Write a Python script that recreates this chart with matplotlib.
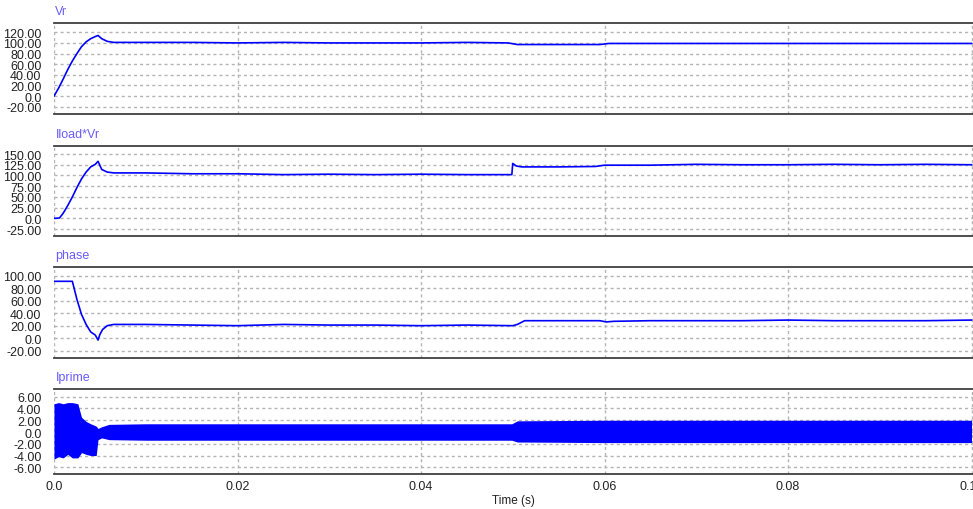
import matplotlib
matplotlib.use("Agg")
import matplotlib.pyplot as plt
import numpy as np

# ---------------- data ----------------
t_vr = [0, 0.0005, 0.001, 0.0015, 0.002, 0.0025, 0.003, 0.0035, 0.004, 0.0045,
        0.0048, 0.0052, 0.0058, 0.0065, 0.01, 0.015, 0.02, 0.025, 0.03, 0.035,
        0.04, 0.045, 0.0495, 0.0505, 0.055, 0.0595, 0.0605, 0.065, 0.07, 0.075,
        0.08, 0.085, 0.09, 0.095, 0.1]
vr = [0, 15, 32, 50, 66, 80, 93, 102, 108, 112,
      114, 108, 103, 101, 101, 101, 100, 101, 100, 100,
      100, 101, 100, 97, 97, 97, 99, 99, 99, 99,
      99, 99, 99, 99, 99]

t_iv = [0, 0.0006, 0.001, 0.0015, 0.002, 0.0025, 0.003, 0.0035, 0.004, 0.0045,
        0.0048, 0.0052, 0.0058, 0.0065, 0.01, 0.015, 0.02, 0.025, 0.03, 0.035,
        0.04, 0.045, 0.0499, 0.0500, 0.0504, 0.051, 0.055, 0.059, 0.06, 0.065,
        0.07, 0.075, 0.08, 0.085, 0.09, 0.095, 0.1]
iload_vr = [0, 1, 12, 30, 50, 72, 92, 108, 120, 126,
            133, 114, 108, 106, 106, 104, 104, 102, 103, 102,
            103, 102, 102, 128, 122, 120, 120, 121, 124, 124,
            126, 125, 125, 126, 125, 126, 125]

t_ph = [0, 0.002, 0.0025, 0.003, 0.0035, 0.004, 0.0045, 0.0048, 0.005, 0.0053,
        0.0058, 0.0065, 0.01, 0.015, 0.02, 0.025, 0.03, 0.035, 0.04, 0.045,
        0.05, 0.0505, 0.0513, 0.055, 0.0595, 0.0602, 0.061, 0.065, 0.07, 0.075,
        0.08, 0.085, 0.09, 0.095, 0.1]
phase = [91, 91, 62, 38, 22, 10, 5, -3, 6, 14,
         20, 22, 22, 21, 20, 22, 21, 21, 20, 21,
         20, 22, 28, 28, 28, 26, 27, 28, 28, 28,
         29, 28, 28, 28, 29]

t_ip = [0, 0.0005, 0.001, 0.0015, 0.002, 0.0026, 0.003, 0.0035, 0.004, 0.0046,
        0.0048, 0.0052, 0.006, 0.01, 0.02, 0.03, 0.04, 0.0499, 0.0505, 0.06,
        0.07, 0.08, 0.09, 0.1]
iprime_hi = [4.8, 5.0, 4.8, 5.0, 5.0, 4.8, 2.5, 1.8, 1.4, 1.0,
             0.6, 0.9, 1.3, 1.4, 1.4, 1.4, 1.4, 1.4, 1.9, 2.0,
             2.0, 2.0, 2.0, 2.0]
iprime_lo = [-4.6, -4.2, -4.4, -3.8, -4.4, -4.4, -3.5, -3.8, -4.0, -4.0,
             -1.3, -1.0, -1.3, -1.4, -1.4, -1.4, -1.4, -1.4, -1.7, -1.8,
             -1.8, -1.8, -1.8, -1.8]

titles = ["Vr", "Iload*Vr", "phase", "Iprime"]
yticks_list = [
    [-20, 0, 20, 40, 60, 80, 100, 120],
    [-25, 0, 25, 50, 75, 100, 125, 150],
    [-20, 0, 20, 40, 60, 80, 100],
    [-6, -4, -2, 0, 2, 4, 6],
]
ylims = [(-33.7, 137.5), (-41, 169.4), (-31.7, 114.4), (-7.05, 7.31)]
xticks = [0.0, 0.02, 0.04, 0.06, 0.08, 0.10]
xticklabels = ["0.0", "0.02", "0.04", "0.06", "0.08", "0.10"]

# ---------------- layout ----------------
W, H = 973, 510
fig = plt.figure(figsize=(W / 100, H / 100), dpi=100)
plt.rcParams['font.family'] = ['Liberation Sans', 'DejaVu Sans']

panels_px = [(24, 115), (146.7, 237), (267.7, 359), (390, 474.5)]
left_px = 54
xmax = (W - left_px) / 9175.0

blue = "#0000ff"
title_col = "#6a5cff"
grid_col = "#b4b4b4"
spine_col = "#404040"
text_col = "#222222"

axes = []
for i, (top, bot) in enumerate(panels_px):
    ax = fig.add_axes([left_px / W, 1 - bot / H, 1 - left_px / W, (bot - top) / H])
    axes.append(ax)
    ax.set_xlim(0, xmax)
    ax.set_ylim(*ylims[i])
    ax.set_yticks(yticks_list[i])
    ax.set_yticklabels(["0.0" if v == 0 else f"{v:.2f}" for v in yticks_list[i]])
    ax.set_xticks(xticks)
    for y in yticks_list[i]:
        ax.axhline(y, color=grid_col, lw=1.0, ls=(0, (2.2, 2.2)), zorder=1)
    for x in xticks:
        ax.axvline(x, color=grid_col, lw=1.0, ls=(0, (2.2, 2.2)), zorder=1)
    ax.tick_params(axis='both', length=0, labelsize=9, colors=text_col, pad=9)
    ax.spines['right'].set_visible(False)
    ax.spines['left'].set_visible(False)
    for s in ('top', 'bottom'):
        ax.spines[s].set_color(spine_col)
        ax.spines[s].set_linewidth(1.3)
    ax.annotate(titles[i], xy=(0, 1), xycoords='axes fraction', xytext=(1, 8.5),
                textcoords='offset points', ha='left', va='center',
                color=title_col, fontsize=9)
    if i < 3:
        ax.tick_params(axis='x', labelbottom=False)
    else:
        ax.set_xticklabels(xticklabels)
        ax.tick_params(axis='x', pad=5)
        ax.set_xlabel("Time (s)", fontsize=8.5, color=text_col, labelpad=1)

axes[0].plot(t_vr, vr, color=blue, lw=1.2, zorder=3)
axes[1].plot(t_iv, iload_vr, color=blue, lw=1.2, zorder=3)
axes[2].plot(t_ph, phase, color=blue, lw=1.2, zorder=3)
axes[3].fill_between(t_ip, iprime_lo, iprime_hi, color=blue, lw=0, zorder=3)

fig.savefig("out.png", dpi=100)
